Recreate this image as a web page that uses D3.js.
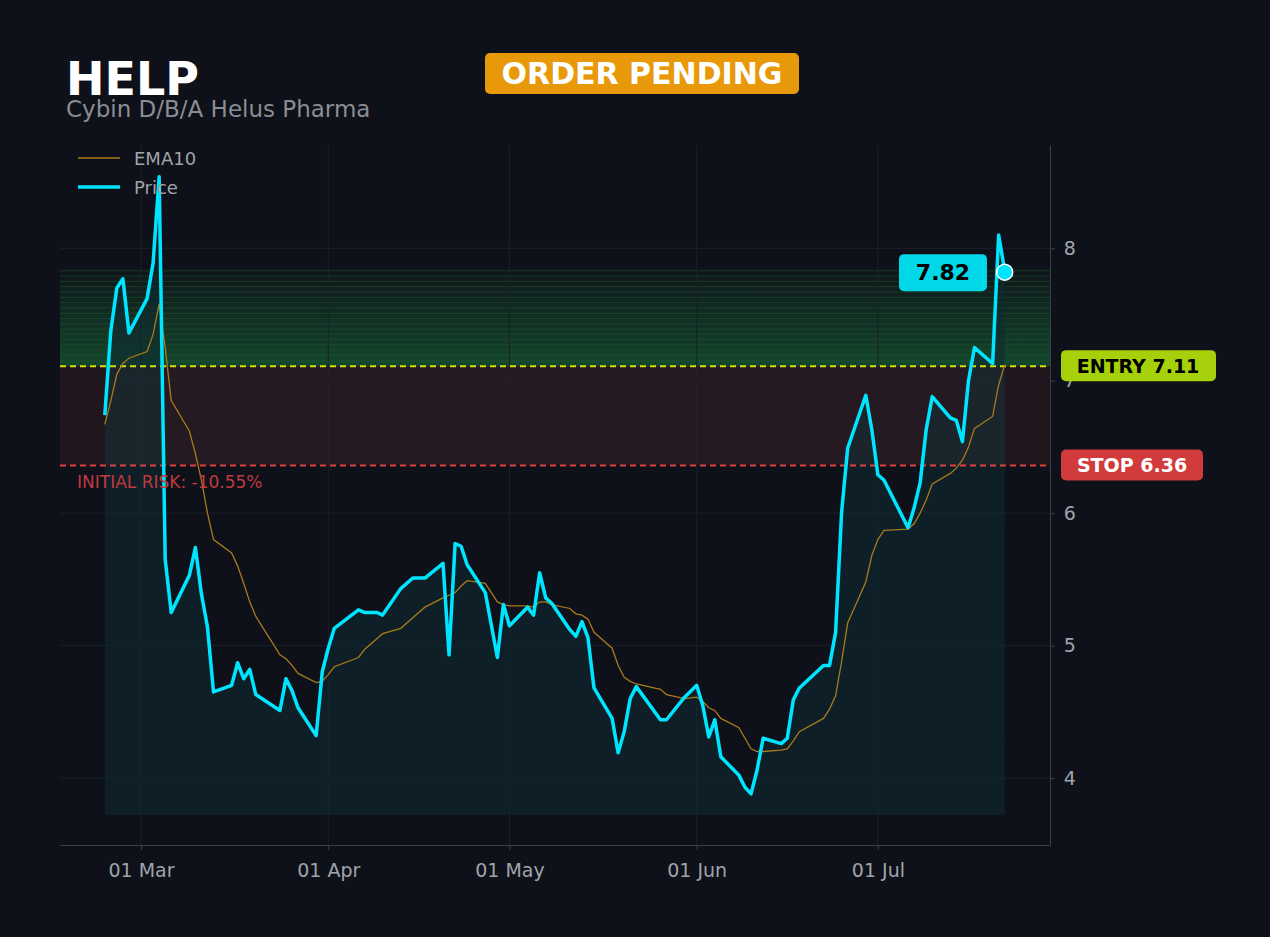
<!DOCTYPE html>
<html><head><meta charset="utf-8">
<script src="https://cdn.jsdelivr.net/npm/d3@7"></script>
<style>body{margin:0;background:#0e1119;font-family:"DejaVu Sans",sans-serif}</style>
</head><body><svg id="chart" width="1270" height="937"></svg>
<script>
var dates = ["2024-02-24","2024-02-25","2024-02-26","2024-02-27","2024-02-28","2024-03-02","2024-03-03","2024-03-04","2024-03-05","2024-03-06",
"2024-03-09","2024-03-10","2024-03-11","2024-03-12","2024-03-13","2024-03-16","2024-03-17","2024-03-18","2024-03-19","2024-03-20",
"2024-03-24","2024-03-25","2024-03-26","2024-03-27","2024-03-30","2024-03-31","2024-04-01","2024-04-02","2024-04-06","2024-04-07",
"2024-04-09","2024-04-10","2024-04-13","2024-04-15","2024-04-17","2024-04-20","2024-04-21","2024-04-22","2024-04-23","2024-04-24",
"2024-04-27","2024-04-29","2024-04-30","2024-05-01","2024-05-04","2024-05-05","2024-05-06","2024-05-07","2024-05-08","2024-05-11",
"2024-05-12","2024-05-13","2024-05-14","2024-05-15","2024-05-18","2024-05-19","2024-05-20","2024-05-21","2024-05-22","2024-05-26",
"2024-05-27","2024-05-30","2024-06-01","2024-06-02","2024-06-03","2024-06-04","2024-06-05","2024-06-08","2024-06-09","2024-06-10",
"2024-06-11","2024-06-12","2024-06-15","2024-06-16","2024-06-17","2024-06-18","2024-06-22","2024-06-23","2024-06-24","2024-06-25",
"2024-06-26","2024-06-29","2024-06-30","2024-07-01","2024-07-02","2024-07-06","2024-07-07","2024-07-08","2024-07-09","2024-07-10",
"2024-07-13","2024-07-14","2024-07-15","2024-07-16","2024-07-17","2024-07-20","2024-07-21","2024-07-22"]
var price = [6.74,7.38,7.70,7.77,7.36,7.62,7.89,8.54,5.65,5.25,
5.53,5.74,5.39,5.14,4.65,4.70,4.87,4.75,4.82,4.63,
4.51,4.75,4.66,4.53,4.32,4.80,4.98,5.13,5.27,5.25,
5.25,5.23,5.43,5.51,5.51,5.62,4.93,5.77,5.75,5.61,
5.40,4.91,5.31,5.15,5.29,5.23,5.55,5.36,5.32,5.12,
5.07,5.18,5.06,4.68,4.45,4.19,4.35,4.60,4.69,4.44,
4.44,4.61,4.70,4.55,4.31,4.44,4.16,4.02,3.93,3.88,
4.06,4.30,4.26,4.30,4.59,4.68,4.85,4.85,5.10,6.01,
6.49,6.89,6.63,6.29,6.25,5.89,6.04,6.23,6.63,6.88,
6.72,6.70,6.54,7.00,7.25,7.13,8.10,7.83]
var ema10 = [6.67,6.85,7.05,7.13,7.17,7.22,7.35,7.58,7.25,6.85,
6.62,6.45,6.25,6.00,5.80,5.70,5.60,5.47,5.33,5.22,
4.93,4.90,4.85,4.79,4.72,4.73,4.78,4.84,4.91,4.97,
5.05,5.09,5.13,5.21,5.29,5.36,5.38,5.40,5.45,5.49,
5.47,5.33,5.31,5.30,5.30,5.29,5.33,5.33,5.31,5.28,
5.24,5.23,5.20,5.10,4.98,4.85,4.76,4.73,4.71,4.67,
4.63,4.60,4.61,4.58,4.53,4.51,4.45,4.38,4.30,4.22,
4.20,4.20,4.21,4.22,4.28,4.35,4.45,4.52,4.62,4.88,
5.17,5.48,5.68,5.80,5.87,5.88,5.92,6.00,6.10,6.22,
6.30,6.34,6.40,6.50,6.64,6.73,6.97,7.12]
var yTicks = [4,5,6,7,8]
var monthTicks = ["2024-03-01","2024-04-01","2024-05-01","2024-06-01","2024-07-01"]
var entry = 7.11, stop = 6.36, target = 7.85, last = 7.82

var parse = d3.timeParse("%Y-%m-%d")
var data = dates.map(function(d,i){ return {date: parse(d), price: price[i], ema: ema10[i]} })
var svg = d3.select('#chart')
var L = 60, R = 1050, T = 145, B = 845
var x = d3.scaleTime().domain([new Date(2024,1,16,14), new Date(2024,6,29,12)]).range([L, R])
var y = d3.scaleLinear().domain([3.494, 8.78]).range([B, T])

var defs = svg.append('defs')
var g1 = defs.append('linearGradient').attr('id','tg').attr('x1',0).attr('x2',0).attr('y1',0).attr('y2',1)
g1.append('stop').attr('offset','0%').attr('stop-color','#22c55e').attr('stop-opacity',0.02)
g1.append('stop').attr('offset','100%').attr('stop-color','#22c55e').attr('stop-opacity',0.3)

// target zone stripes
svg.append('rect').attr('x',L).attr('width',R-L).attr('y',y(target)).attr('height',y(entry)-y(target)).attr('fill','url(#tg)')
d3.range(entry, target, 0.04).forEach(function(v){
	svg.append('line').attr('x1',L).attr('x2',R).attr('y1',y(v)).attr('y2',y(v)).attr('stroke','#1f5a2a').attr('stroke-opacity',0.5)
})
// risk zone
svg.append('rect').attr('x',L).attr('width',R-L).attr('y',y(entry)).attr('height',y(stop)-y(entry)).attr('fill','#2a1820').attr('opacity',0.7)

// grid
svg.selectAll('.hg').data(yTicks).enter().append('line').attr('x1',L).attr('x2',R)
	.attr('y1',function(d){return y(d)}).attr('y2',function(d){return y(d)}).attr('stroke','#1c2028')
svg.selectAll('.vg').data(monthTicks).enter().append('line').attr('y1',T).attr('y2',B)
	.attr('x1',function(d){return x(parse(d))}).attr('x2',function(d){return x(parse(d))}).attr('stroke','#1c2028')

// area under price
svg.append('path').datum(data).attr('fill','#0f2a30').attr('opacity',0.6)
	.attr('d', d3.area().x(function(d){return x(d.date)}).y0(y(3.72)).y1(function(d){return y(d.price)}))
svg.append('rect').attr('x',x(data[0].date)).attr('width',x(data[data.length-1].date)-x(data[0].date))
	.attr('y',y(entry)).attr('height',y(stop)-y(entry)).attr('fill','#ffffff').attr('opacity',0.02)

// levels
svg.append('line').attr('x1',L).attr('x2',R).attr('y1',y(entry)).attr('y2',y(entry)).attr('stroke','#d4e00a').attr('stroke-width',2).attr('stroke-dasharray','6,4')
svg.append('line').attr('x1',L).attr('x2',R).attr('y1',y(stop)).attr('y2',y(stop)).attr('stroke','#e04040').attr('stroke-width',2).attr('stroke-dasharray','6,4')

// lines
svg.append('path').datum(data).attr('fill','none').attr('stroke','#a87a1a').attr('stroke-width',1.3)
	.attr('d', d3.line().x(function(d){return x(d.date)}).y(function(d){return y(d.ema)}))
svg.append('path').datum(data).attr('fill','none').attr('stroke','#00e5ff').attr('stroke-width',3.5).attr('stroke-linejoin','round')
	.attr('d', d3.line().x(function(d){return x(d.date)}).y(function(d){return y(d.price)}))

// axes
var ax = svg.append('g').attr('transform','translate(0,'+B+')')
	.call(d3.axisBottom(x).tickValues(monthTicks.map(parse)).tickFormat(d3.timeFormat('%d %b')).tickSize(5).tickSizeOuter(0))
var ay = svg.append('g').attr('transform','translate('+R+',0)')
	.call(d3.axisRight(y).tickValues(yTicks).tickFormat(d3.format('d')).tickSize(5).tickSizeOuter(0))
;[ax,ay].forEach(function(a){
	a.selectAll('path,line').attr('stroke','#3a3f48')
	a.selectAll('text').attr('fill','#a0a4ab').attr('font-size',19).attr('font-family','DejaVu Sans')
})
ax.selectAll('text').attr('dy','1.25em')
ay.selectAll('text').attr('dx','0.3em')

// last price marker
var ld = data[data.length-1]
svg.append('circle').attr('cx',x(ld.date)).attr('cy',y(last)).attr('r',8).attr('fill','#00e5ff').attr('stroke','#fff').attr('stroke-width',1.5)
svg.append('rect').attr('x',899).attr('y',y(last)-18).attr('width',88).attr('height',37).attr('rx',5).attr('fill','#00d8e8')
svg.append('text').attr('x',943).attr('y',y(last)+8).attr('text-anchor','middle').attr('font-size',22).attr('font-weight','bold').attr('fill','#000').text(last.toFixed(2))

// level labels
svg.append('rect').attr('x',1061).attr('y',y(entry)-16).attr('width',155).attr('height',31).attr('rx',5).attr('fill','#a6d10a')
svg.append('text').attr('x',1138).attr('y',y(entry)+7).attr('text-anchor','middle').attr('font-size',19).attr('font-weight','bold').attr('fill','#000').text('ENTRY '+entry.toFixed(2))
svg.append('rect').attr('x',1061).attr('y',y(stop)-16).attr('width',142).attr('height',31).attr('rx',5).attr('fill','#d13b3b')
svg.append('text').attr('x',1132).attr('y',y(stop)+7).attr('text-anchor','middle').attr('font-size',19).attr('font-weight','bold').attr('fill','#fff').text('STOP '+stop.toFixed(2))
svg.append('text').attr('x',77).attr('y',y(stop)+23).attr('font-size',17).attr('fill','#c0393f').text('INITIAL RISK: -10.55%')

// legend
svg.append('line').attr('x1',78).attr('x2',120).attr('y1',158).attr('y2',158).attr('stroke','#a87a1a').attr('stroke-width',1.5)
svg.append('text').attr('x',134).attr('y',165).attr('font-size',18).attr('fill','#a0a4ab').text('EMA10')
svg.append('line').attr('x1',78).attr('x2',120).attr('y1',187).attr('y2',187).attr('stroke','#00e5ff').attr('stroke-width',3.5)
svg.append('text').attr('x',134).attr('y',194).attr('font-size',18).attr('fill','#a0a4ab').text('Price')

// title
svg.append('text').attr('x',66).attr('y',95).attr('font-size',46).attr('font-weight','bold').attr('fill','#fff').text('HELP')
svg.append('text').attr('x',66).attr('y',117).attr('font-size',23).attr('fill','#8a8d93').text('Cybin D/B/A Helus Pharma')
svg.append('rect').attr('x',485).attr('y',53).attr('width',314).attr('height',41).attr('rx',5).attr('fill','#e8990a')
svg.append('text').attr('x',642).attr('y',84).attr('text-anchor','middle').attr('font-size',30).attr('font-weight','bold').attr('fill','#fff').text('ORDER PENDING')
</script></body></html>
